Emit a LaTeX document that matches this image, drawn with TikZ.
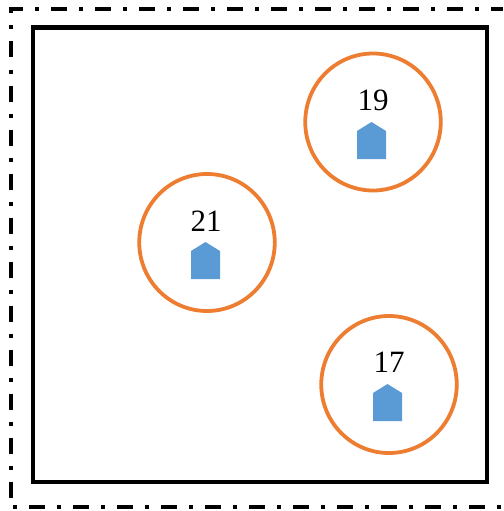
\documentclass[tikz,border=0pt]{standalone}
\usetikzlibrary{shapes.geometric}
\usepackage{fontspec}
\setmainfont{Liberation Serif}
\definecolor{ring}{HTML}{ED7D31}
\definecolor{house}{HTML}{5B9BD5}
\tikzset{
  ringc/.style={ellipse,draw=ring,line width=3.8pt,minimum width=135.5pt,minimum height=137pt,inner sep=0pt},
  lab/.style={font=\fontsize{31}{34}\selectfont,inner sep=0pt,text=black},
  hut/.style={fill=house,draw=none},
  dashdot/.style={black,line width=4pt,dash pattern=on 16pt off 12pt on 4pt off 12pt},
}
\newcommand{\hut}[2]{\fill[hut] (#1-14.5,#2+18.5) -- (#1-14.5,#2-9.5) -- (#1,#2-18.5) -- (#1+14.5,#2-9.5) -- (#1+14.5,#2+18.5) -- cycle;}
\begin{document}
\begin{tikzpicture}[x=1pt,y=-1pt]
\useasboundingbox (0,0) rectangle (503,511);
\coordinate (tl) at (11,9.5);
\coordinate (tls) at (9,9.5);
\coordinate (tr) at (503,9.5);
\coordinate (bl) at (11,507);
\coordinate (br) at (503,507);
\draw[dashdot,dash phase=2pt] (tls) -- (tr);
\draw[dashdot,dash phase=12pt] (tl) -- (bl);
\draw[dashdot,dash phase=26pt] (bl) -- (br);
\draw[black,line width=4.4pt] (33,27.5) rectangle (487,482);
\node[ringc] (c19) at (373,122) {};
\node[ringc] (c21) at (207,242.5) {};
\node[ringc] (c17) at (389,384.5) {};
\node[lab] (t19) at (373,100.5) {19};
\node[lab] (t21) at (206,221.5) {21};
\node[lab] (t17) at (389,362.5) {17};
\hut{371.5}{140.5}
\hut{205.5}{260.5}
\hut{387.5}{402.5}
\end{tikzpicture}
\end{document}
